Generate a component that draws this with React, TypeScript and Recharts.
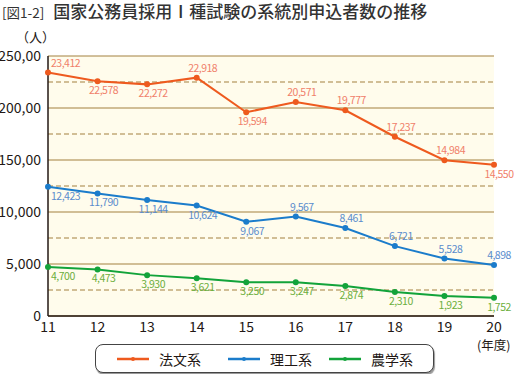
import React from "react";
import { LineChart, Line, XAxis, YAxis, CartesianGrid, ReferenceLine } from "recharts";

const years = ["11", "12", "13", "14", "15", "16", "17", "18", "19", "20"];
const houbun = [23412, 22578, 22272, 22918, 19594, 20571, 19777, 17237, 14984, 14550];
const rikou = [12423, 11790, 11144, 10624, 9067, 9567, 8461, 6721, 5528, 4898];
const nougaku = [4700, 4473, 3930, 3621, 3250, 3247, 2874, 2310, 1923, 1752];
const yTicks = [0, 5000, 10000, 15000, 20000, 25000];
const yTickLabels = ["0", "5,000", "10,000", "150,00", "200,00", "250,00"];
const dashedLevels = [2500, 7500, 12500, 17500, 22500];

const houbunAbove = [true, false, false, true, false, true, true, true, true, false];
const rikouAbove = [false, false, false, false, false, true, true, true, true, true];
const nougakuAbove = [false, false, false, false, false, false, false, false, false, false];

const FONT = "'Noto Sans CJK JP', 'Noto Sans', sans-serif";
const GRID = "#a3803f";

const data = years.map((y, i) => ({
  year: y,
  houbun: houbun[i],
  rikou: rikou[i],
  nougaku: nougaku[i],
}));

const fmt = (v: number) => v.toLocaleString("en-US");

const makeLabel = (above: boolean[], color: string) => (props: any) => {
  const { x, y, value, index } = props;
  const isAbove = above[index];
  const first = index === 0;
  const last = index === years.length - 1;
  const tx = first ? x + 3 : last ? x + 5 : x + 6;
  const ty = isAbove ? y - 6 : y + 13;
  return (
    <text
      x={tx}
      y={ty}
      textAnchor={first ? "start" : "middle"}
      fill={color}
      fontSize={10.5}
      letterSpacing={-0.5}
      fontFamily={FONT}
    >
      {fmt(value)}
    </text>
  );
};

const YTick = (props: any) => {
  const { x, y, payload } = props;
  const idx = yTicks.indexOf(payload.value);
  return (
    <text x={x} y={y} dy={5} textAnchor="end" fill="#231815" fontSize={14} fontFamily={FONT}>
      {yTickLabels[idx]}
    </text>
  );
};

const XTick = (props: any) => {
  const { x, y, payload } = props;
  return (
    <text x={x} y={y} dy={8} textAnchor="middle" fill="#231815" fontSize={14} fontFamily={FONT}>
      {payload.value}
    </text>
  );
};

const series = [
  { key: "houbun", name: "法文系", color: "#ee5a1e", label: "#f0806a", above: houbunAbove },
  { key: "rikou", name: "理工系", color: "#1b7ccb", label: "#5a8ccc", above: rikouAbove },
  { key: "nougaku", name: "農学系", color: "#12a33a", label: "#6cae3c", above: nougakuAbove },
];

export default function App() {
  return (
    <div style={{ position: "absolute", left: 0, top: 0, width: 514, height: 374, background: "#fff", fontFamily: FONT }}>
      <div style={{ position: "absolute", left: 2, top: 0, whiteSpace: "nowrap", color: "#333", lineHeight: "22px" }}>
        <span style={{ fontSize: 13.5 }}>[図1-2]</span>
        <span style={{ fontSize: 17, fontWeight: 500, marginLeft: 9 }}>国家公務員採用Ⅰ種試験の系統別申込者数の推移</span>
      </div>
      <div style={{ position: "absolute", left: 16, top: 27, fontSize: 13, color: "#231815" }}>（人）</div>
      <div style={{ position: "absolute", left: 477, top: 335, fontSize: 12.5, color: "#231815" }}>(年度)</div>
      <LineChart width={514} height={374} data={data} margin={{ top: 56, right: 20, left: 0, bottom: 28 }}>
        <CartesianGrid vertical={false} stroke={GRID} fill="#fffcec" horizontalValues={yTicks} />
        {dashedLevels.map((v) => (
          <ReferenceLine key={v} y={v} stroke={GRID} strokeDasharray="5 3" ifOverflow="hidden" />
        ))}
        <XAxis dataKey="year" height={30} tickLine={false} axisLine={{ stroke: "#231815", strokeWidth: 1.5 }} tick={<XTick />} interval={0} />
        <YAxis
          width={48}
          domain={[0, 25000]}
          ticks={yTicks}
          tickLine={false}
          tickSize={6}
          tickMargin={1}
          axisLine={{ stroke: "#231815", strokeWidth: 1.5 }}
          tick={<YTick />}
          interval={0}
        />
        {series.map((s) => (
          <Line
            key={s.key}
            dataKey={s.key}
            stroke={s.color}
            strokeWidth={2}
            dot={{ r: 3, fill: s.color, stroke: s.color, strokeWidth: 0 }}
            isAnimationActive={false}
            label={makeLabel(s.above, s.label)}
          />
        ))}
      </LineChart>
      <div
        style={{
          position: "absolute",
          left: 95,
          top: 344,
          width: 337,
          height: 27,
          border: "1px solid #444",
          borderRadius: 8,
          boxShadow: "1px 2px 1px #999",
          background: "#fff",
        }}
      >
        {series.map((s, i) => (
          <div key={s.key} style={{ position: "absolute", left: [20, 131, 232][i], top: 0, height: 27, display: "flex", alignItems: "center" }}>
            <svg width={34} height={10} style={{ marginRight: 9 }}>
              <line x1={1} y1={5} x2={33} y2={5} stroke={s.color} strokeWidth={2.5} />
              <circle cx={17} cy={5} r={2} fill={s.color} />
            </svg>
            <span style={{ fontSize: 14, color: "#231815" }}>{s.name}</span>
          </div>
        ))}
      </div>
    </div>
  );
}
